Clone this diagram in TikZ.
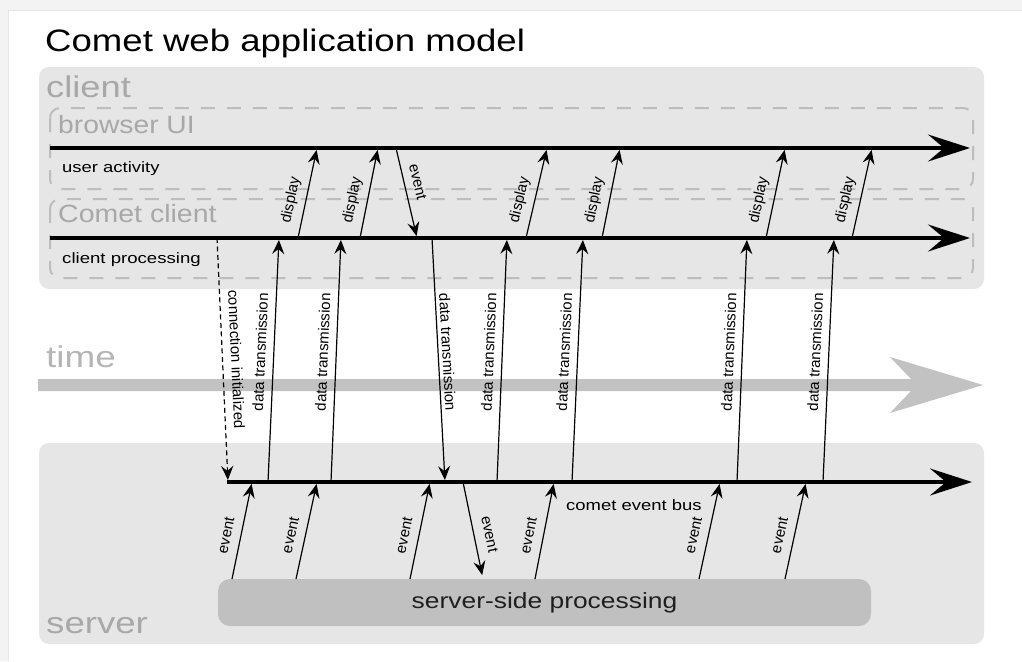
\documentclass[tikz,border=0pt]{standalone}
\usepackage{graphicx}
\usepackage{fontspec}
\setmainfont{Liberation Sans}
\usetikzlibrary{arrows.meta}
\definecolor{boxgray}{HTML}{E6E6E6}
\definecolor{labgray}{HTML}{A8A8A8}
\definecolor{dashgray}{HTML}{BDBDBD}
\definecolor{procgray}{HTML}{C0C0C0}
\definecolor{timegray}{HTML}{C2C2C2}
\definecolor{framegray}{HTML}{F3F3F3}
\definecolor{framedark}{HTML}{E6E6E6}
\newcommand\widetxt[2]{\scalebox{#1}[1]{#2}}
\begin{document}
\begin{tikzpicture}[x=1pt,y=-1pt,
  region/.style={fill=boxgray, rounded corners=10pt},
  lane/.style={draw=dashgray, line width=2pt, dash pattern=on 14pt off 12pt, rounded corners=10pt},
  titlelab/.style={text=black, font=\fontsize{31}{31}\selectfont, anchor=base west, inner sep=0pt},
  biglab/.style={text=labgray, font=\fontsize{30}{30}\selectfont, anchor=base west, inner sep=0pt},
  lanelab/.style={text=labgray, font=\fontsize{25}{25}\selectfont, anchor=base west, inner sep=0pt},
  smalllab/.style={text=black, font=\fontsize{15}{15}\selectfont, anchor=base west, inner sep=0pt},
  timeline/.style={line width=3.5pt, -{Stealth[length=42pt,width=27pt,inset=16pt]}},
  msg/.style={line width=1.2pt, -{Stealth[length=14pt,width=12pt,inset=5pt]}, shorten >=2pt},
  msglab/.style={font=\fontsize{15}{15}\selectfont, inner sep=0pt, sloped},
  procbox/.style={fill=procgray, rounded corners=12pt, minimum width=653pt, minimum height=47pt, inner sep=0pt, font=\fontsize{22}{22}\selectfont, text=black!88}
]
\useasboundingbox (0,0) rectangle (1022,661);
% page frame
\fill[framegray] (0,0) rectangle (1022,661);
\fill[white] (8,11) rectangle (1022,661);
\draw[framedark, line width=1pt] (8,661) -- (8,11) -- (1022,11);

% title
\node[titlelab] (title) at (45,52) {\widetxt{1.18}{Comet web application model}};

% regions
\fill[region] (39,67) rectangle (984,289);
\fill[region] (39,443) rectangle (984,644);
\draw[lane] (50,108) rectangle (973,189);
\draw[lane] (50,199) rectangle (973,278);

% region labels
\node[biglab] (clientlab) at (46,97) {\widetxt{1.21}{client}};
\node[lanelab] (browserlab) at (58,133) {\widetxt{1.13}{browser UI}};
\node[lanelab] (cometlab) at (58,222) {\widetxt{1.14}{Comet client}};
\node[smalllab] (ualab) at (62,172) {\widetxt{1.23}{user activity}};
\node[smalllab] (cplab) at (62,263) {\widetxt{1.24}{client processing}};
\node[biglab, text=labgray!85] (timelab) at (46,367) {\widetxt{1.23}{time}};
\node[biglab] (serverlab) at (46,633) {\widetxt{1.22}{server}};
\node[smalllab] (buslab) at (566,510) {\widetxt{1.23}{comet event bus}};

% time arrow
\fill[timegray] (38,379) -- (911,379) -- (890,357) -- (983,385) -- (890,413) -- (911,391) -- (38,391) -- cycle;

% server-side processing
\node[procbox] (proc) at (544.5,602.5) {\widetxt{1.2}{server-side processing}};

% timelines
\coordinate (uaS) at (50,148);  \coordinate (uaE) at (970,148);
\coordinate (cpS) at (50,238);  \coordinate (cpE) at (970,238);
\coordinate (busS) at (227,482); \coordinate (busE) at (972,482);
\draw[timeline] (uaS) -- (uaE);
\draw[timeline] (cpS) -- (cpE);
\draw[timeline] (busS) -- (busE);

% display arrows (client processing -> user activity)
\foreach \n/\a/\b in {1/298/317, 2/360/378, 3/526/547, 4/602/620, 5/766/785, 6/852/872}{
  \coordinate (d\n s) at (\a,238);
  \coordinate (d\n e) at (\b,148);
  \draw[msg] (d\n s) -- node[msglab, pos=0.39, above=7pt] {display} (d\n e);
}
% event from user activity down to client processing
\coordinate (evTs) at (396,148);
\coordinate (evTe) at (417,238);
\draw[msg] (evTs) -- node[msglab, pos=0.41, above=8pt] {event} (evTe);

% data transmission arrows (bus -> client processing)
\foreach \n/\a/\b in {1/268/279, 2/331/341, 4/497/507, 5/572/583, 6/737/747, 7/823/834}{
  \coordinate (t\n s) at (\a,482);
  \coordinate (t\n e) at (\b,238);
  \draw[msg] (t\n s) -- node[msglab, pos=0.53, above=7.5pt] {data transmission} (t\n e);
}
% data transmission down
\coordinate (t3s) at (432,238);
\coordinate (t3e) at (445,482);
\draw[msg] (t3s) -- node[msglab, pos=0.47, above=3.5pt] {data transmission} (t3e);

% connection initialized
\coordinate (conS) at (217,238);
\coordinate (conE) at (228,482);
\draw[msg, dash pattern=on 5pt off 3.5pt] (conS) -- node[msglab, pos=0.5, above=8pt] {connection initialized} (conE);

% events from server-side processing up to bus
\foreach \n/\a/\b in {1/232/252, 2/296/317, 3/410/430, 5/535/554, 6/699/720, 7/785/806}{
  \coordinate (e\n s) at (\a,579);
  \coordinate (e\n e) at (\b,482);
  \draw[msg] (e\n s) -- node[msglab, pos=0.42, above=9pt] {event} (e\n e);
}
% event down from bus to processing
\coordinate (e4s) at (463,482);
\coordinate (e4e) at (483,579);
\draw[msg, shorten >=4pt] (e4s) -- node[msglab, pos=0.57, above=10pt] {event} (e4e);
\end{tikzpicture}
\end{document}
